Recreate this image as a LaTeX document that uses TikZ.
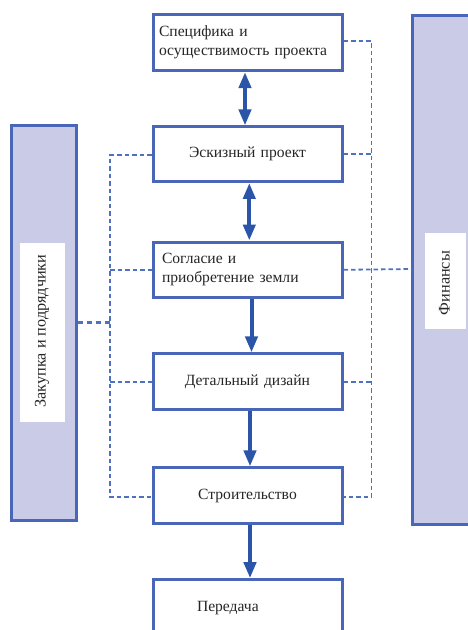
\documentclass[tikz,border=0pt]{standalone}
\usepackage{fontspec}
\setmainfont{Liberation Serif}
\usetikzlibrary{arrows.meta}
\definecolor{boxblue}{HTML}{4A66B8}
\definecolor{arrblue}{HTML}{2B55A8}
\definecolor{dashblue}{HTML}{4F72C0}
\definecolor{panelfill}{HTML}{C9CBE7}
\tikzset{
  stepbox/.style={draw=boxblue, line width=3pt, fill=white, minimum width=189pt, text width=177pt, inner xsep=6pt, inner ysep=0pt, font=\fontsize{15.6}{19}\selectfont, text=black!85},
  panel/.style={draw=boxblue, line width=3pt, fill=panelfill},
  flowarrow/.style={draw=arrblue, line width=4pt, -{Triangle[width=12pt,length=16pt]}},
  dblarrow/.style={draw=arrblue, line width=4pt, {Triangle[width=12pt,length=16pt]}-{Triangle[width=12pt,length=16pt]}},
  link/.style={draw=dashblue, line width=1.8pt, dash pattern=on 4.5pt off 3pt},
  biglink/.style={draw=dashblue, line width=2.6pt, dash pattern=on 5pt off 4pt},
  vlabel/.style={rotate=90, font=\fontsize{16.2}{18}\selectfont, text=black!85}
}
\begin{document}
\begin{tikzpicture}[x=1pt,y=-1pt]
\useasboundingbox (0,0) rectangle (468,630);
\begin{scope}
\clip (0,0) rectangle (468,630);
% side panels
\path[panel] (11,125.5) rectangle (76,520.5);
\fill[white] (19.5,242.5) rectangle (65,422);
\node[vlabel] (proc) at (42,331) {Закупка и подрядчики};
\path[panel] (412,15.5) rectangle (480,524.5);
\fill[white] (425,232.5) rectangle (466,329);
\node[vlabel] (fin) at (444.5,283) {Финансы};
% boxes
\node[stepbox, minimum height=56pt, align=left] (b1) at (247.5,42.6) {Специфика и\\осуществимость проекта};
\node[stepbox, minimum height=54.5pt, align=center] (b2) at (247.5,154.2) {Эскизный проект};
\node[stepbox, minimum height=55.5pt, align=left, inner xsep=9pt, text width=171pt] (b3) at (247.5,269.8) {Согласие и\\приобретение земли};
\node[stepbox, minimum height=55.5pt, align=center] (b4) at (247.5,381.7) {Детальный дизайн};
\node[stepbox, minimum height=55.5pt, align=center] (b5) at (247.5,495.7) {Строительство};
\node[stepbox, minimum height=56pt, align=left, inner xsep=44pt, text width=101pt] (b6) at (247.5,607.7) {Передача};
% dashed coordinates
\coordinate (lt) at (110,155);
\coordinate (lb) at (110,497);
\coordinate (rt) at (371.5,41);
\coordinate (rb) at (371.5,497);
\draw[link] (b2.west |- lt) -- (lt) -- (lb) -- (lb -| b5.west);
\draw[link] (lt |- b3.west) -- (b3.west);
\draw[link] (lt |- b4.west) -- (b4.west);
\draw[link] (b1.east |- rt) -- (rt) -- (rb) -- (rb -| b5.east);
\draw[link] (b2.east) -- (rt |- b2.east);
\draw[link] (b3.east) -- (412,269);
\draw[link] (b4.east) -- (rt |- b4.east);
\coordinate (pj) at (110,322.5);
\draw[biglink] (77.5,322.5) -- (pj);
% arrows
\draw[dblarrow] ([xshift=-2.5pt]b1.south) -- ([xshift=-2.5pt]b2.north);
\draw[dblarrow] ([xshift=1.8pt]b2.south) -- ([xshift=1.8pt]b3.north);
\draw[flowarrow] ([xshift=4pt]b3.south) -- ([xshift=4pt]b4.north);
\draw[flowarrow] ([xshift=2.5pt]b4.south) -- ([xshift=2.5pt]b5.north);
\draw[flowarrow] ([xshift=2.5pt]b5.south) -- ([xshift=2.5pt]b6.north);
\end{scope}
\end{tikzpicture}
\end{document}
